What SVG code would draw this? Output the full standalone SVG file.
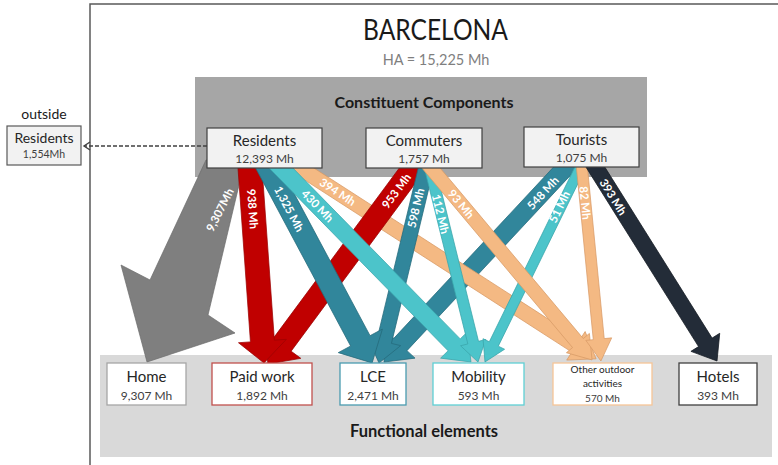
<svg xmlns="http://www.w3.org/2000/svg" width="778" height="465" viewBox="0 0 778 465">
<style>
text{font-family:Lato,"Liberation Sans",sans-serif;}
.frame{fill:none;stroke:#595959;stroke-width:1.5;}
.nbox{fill:#f2f2f2;stroke:#404040;stroke-width:1.2;}
.bbox{fill:#ffffff;stroke-width:1.3;}
.name{font-size:15px;fill:#262626;text-anchor:middle;}
.val{font-size:12px;fill:#404040;text-anchor:middle;}
.lbl{font-size:11.5px;font-weight:bold;fill:#ffffff;text-anchor:middle;}
.a-gray{fill:#7f7f7f;stroke:#6b6b6b;stroke-width:0.7;}
.a-red{fill:#c00000;stroke:#9a0000;stroke-width:0.7;}
.a-teal{fill:#31869b;stroke:#256a7b;stroke-width:0.7;}
.a-cyan{fill:#4cc4ca;stroke:#3aa5ab;stroke-width:0.7;}
.a-orange{fill:#f4b983;stroke:#d89a66;stroke-width:0.7;}
.a-navy{fill:#232c38;stroke:#151b23;stroke-width:0.7;}
</style>
<rect x="0" y="0" width="778" height="465" fill="#ffffff"/>
<path class="frame" d="M90,465 V4 H778"/>
<text x="435.5" y="40" font-size="28" fill="#1a1a1a" text-anchor="middle" textLength="145" lengthAdjust="spacingAndGlyphs">BARCELONA</text>
<text x="436" y="65" font-size="14.5" fill="#7f7f7f" text-anchor="middle">HA = 15,225 Mh</text>

<g id="constituent-components">
<rect x="195" y="77" width="452" height="100" fill="#a6a6a6"/>
<text x="424" y="108" font-size="16" font-weight="bold" fill="#1a1a1a" text-anchor="middle">Constituent Components</text>
</g>
<g id="functional-elements">
<rect x="100" y="355" width="672" height="102" fill="#d9d9d9"/>
<text x="424" y="437" font-size="16.5" font-weight="bold" fill="#1a1a1a" text-anchor="middle">Functional elements</text>
</g>

<g id="connectors">
<path d="M207,146 H84" fill="none" stroke="#404040" stroke-width="1.4" stroke-dasharray="4,2"/>
<path d="M90,142 L84,146 L90,150" fill="none" stroke="#404040" stroke-width="1.4"/>
<polygon class="a-gray" points="206,160 245,160 208,315 235,333 147,362 121,265 150,280"/>
<polygon class="a-teal" transform="translate(574.3,158) rotate(133)" points="0,-9 255,-9 255,-20 279,0 255,20 255,9 0,9"/>
<polygon class="a-orange" transform="translate(284.5,158) rotate(32.8)" points="0,-7.5 346.7,-7.5 346.7,-17 370.7,0 346.7,17 346.7,7.5 0,7.5"/>
<polygon class="a-red" transform="translate(420.4,158) rotate(126.5)" points="0,-11 232.2,-11 232.2,-23 256.2,0 232.2,23 232.2,11 0,11"/>
<polygon class="a-teal" transform="translate(428.4,158) rotate(103.55)" points="0,-7.5 188.9,-7.5 188.9,-17 210.9,0 188.9,17 188.9,7.5 0,7.5"/>
<polygon class="a-red" transform="translate(249.3,158) rotate(85.9)" points="0,-12 183.5,-12 183.5,-24 205.5,0 183.5,24 183.5,12 0,12"/>
<polygon class="a-teal" transform="translate(262.7,158) rotate(61.9)" points="0,-11 207.3,-11 207.3,-25 232.3,0 207.3,25 207.3,11 0,11"/>
<polygon class="a-cyan" transform="translate(271.2,158) rotate(45.6)" points="0,-8.5 261.5,-8.5 261.5,-19 285.5,0 261.5,19 261.5,8.5 0,8.5"/>
<polygon class="a-cyan" transform="translate(427.5,158) rotate(76.1)" points="0,-5.5 190.2,-5.5 190.2,-13 210.2,0 190.2,13 190.2,5.5 0,5.5"/>
<polygon class="a-cyan" transform="translate(584.9,158) rotate(116.1)" points="0,-5 207.1,-5 207.1,-12 227.1,0 207.1,12 207.1,5 0,5"/>
<polygon class="a-orange" transform="translate(422.6,158) rotate(50)" points="0,-7 241.6,-7 241.6,-15 263.6,0 241.6,15 241.6,7 0,7"/>
<polygon class="a-orange" transform="translate(581,158) rotate(84.4)" points="0,-5.5 182,-5.5 182,-13 204,0 182,13 182,5.5 0,5.5"/>
<polygon class="a-navy" transform="translate(589.7,158) rotate(57.9)" points="0,-8 217.6,-8 217.6,-17 239.6,0 217.6,17 217.6,8 0,8"/>

<text class="lbl" dy="0.35em" transform="translate(220,210) rotate(-63)">9,307Mh</text>
<text class="lbl" dy="0.35em" transform="translate(252.5,209) rotate(86)">938 Mh</text>
<text class="lbl" dy="0.35em" transform="translate(289,209) rotate(62)">1,325 Mh</text>
<text class="lbl" dy="0.35em" transform="translate(317.5,206) rotate(45.6)">430 Mh</text>
<text class="lbl" dy="0.35em" transform="translate(337.5,192) rotate(32.8)">394 Mh</text>
<text class="lbl" dy="0.35em" transform="translate(396.5,191) rotate(-53.5)">953 Mh</text>
<text class="lbl" dy="0.35em" transform="translate(416,208) rotate(-76.5)">598 Mh</text>
<text class="lbl" dy="0.35em" transform="translate(440.5,214) rotate(76)">112 Mh</text>
<text class="lbl" dy="0.35em" transform="translate(461,204) rotate(50)">93 Mh</text>
<text class="lbl" dy="0.35em" transform="translate(543,193) rotate(-47)">548 Mh</text>
<text class="lbl" dy="0.35em" transform="translate(559.5,207) rotate(-64)">51 Mh</text>
<text class="lbl" dy="0.35em" transform="translate(585,203) rotate(84.4)">82 Mh</text>
<text class="lbl" dy="0.35em" transform="translate(613,197) rotate(58)">393 Mh</text>
</g>

<g id="outside-residents">
<text x="44" y="119" font-size="14" fill="#1a1a1a" text-anchor="middle">outside</text>
<rect x="7" y="126" width="74" height="39" fill="#f2f2f2" stroke="#595959" stroke-width="1.2"/>
<text x="44" y="143" font-size="14" fill="#262626" text-anchor="middle">Residents</text>
<text x="44" y="158" font-size="10.5" fill="#404040" text-anchor="middle">1,554Mh</text>
</g>
<g id="residents">
<rect class="nbox" x="207" y="128" width="115" height="40"/>
<text class="name" x="264.5" y="146">Residents</text>
<text class="val" x="264.5" y="163">12,393 Mh</text>
</g>
<g id="commuters">
<rect class="nbox" x="366" y="128" width="116" height="40"/>
<text class="name" x="424" y="146">Commuters</text>
<text class="val" x="424" y="163">1,757 Mh</text>
</g>
<g id="tourists">
<rect class="nbox" x="524" y="127" width="115" height="40"/>
<text class="name" x="581.5" y="145">Tourists</text>
<text class="val" x="581.5" y="162">1,075 Mh</text>
</g>

<g id="home">
<rect class="bbox" x="107" y="363" width="79" height="42" stroke="#a6a6a6"/>
<text class="name" x="146.5" y="382">Home</text>
<text class="val" x="146.5" y="400">9,307 Mh</text>
</g>
<g id="paid-work">
<rect class="bbox" x="212" y="363" width="100" height="42" stroke="#c0504d"/>
<text class="name" x="262" y="382">Paid work</text>
<text class="val" x="262" y="400">1,892 Mh</text>
</g>
<g id="lce">
<rect class="bbox" x="340" y="363" width="66" height="42" stroke="#4a9bb0"/>
<text class="name" x="373" y="382">LCE</text>
<text class="val" x="373" y="400">2,471 Mh</text>
</g>
<g id="mobility">
<rect class="bbox" x="433" y="363" width="91" height="42" stroke="#5fcfd4"/>
<text class="name" x="478.5" y="382">Mobility</text>
<text class="val" x="478.5" y="400">593 Mh</text>
</g>
<g id="other-outdoor">
<rect class="bbox" x="553" y="363" width="99" height="42" stroke="#f6c597"/>
<text x="602.5" y="373" font-size="10" fill="#262626" text-anchor="middle">Other outdoor</text>
<text x="602.5" y="387" font-size="10" fill="#262626" text-anchor="middle">activities</text>
<text x="602.5" y="402" font-size="10" fill="#404040" text-anchor="middle">570 Mh</text>
</g>
<g id="hotels">
<rect class="bbox" x="679" y="363" width="78" height="42" stroke="#404040"/>
<text class="name" x="718" y="382">Hotels</text>
<text class="val" x="718" y="400">393 Mh</text>
</g>
</svg>
